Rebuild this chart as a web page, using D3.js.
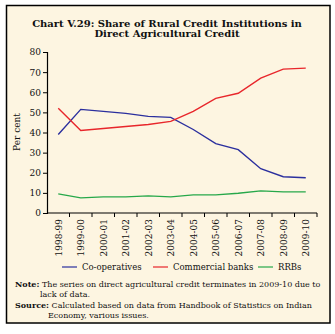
<!DOCTYPE html>
<html><head><meta charset="utf-8">
<script src="https://cdn.jsdelivr.net/npm/d3@7"></script>
<style>
html,body{margin:0;padding:0;background:#fff;}
svg{display:block;}
text{font-family:"DejaVu Serif","Liberation Serif",serif;fill:#111;}
</style></head>
<body>
<svg id="c" width="335" height="334"></svg>
<script>
const years = ["1998-99","1999-00","2000-01","2001-02","2002-03","2003-04","2004-05","2005-06","2006-07","2007-08","2008-09","2009-10"];
const cooperatives = [39, 51.5, 50.5, 49.5, 48, 47.5, 41.5, 34.5, 31.5, 22, 18, 17.5];
const commercialBanks = [52, 41, 42, 43, 44, 45.5, 50.5, 57, 59.5, 67, 71.5, 72];
const rrbs = [9.5, 7.5, 8, 8, 8.5, 8, 9, 9, 9.8, 11, 10.5, 10.5];
const yTicks = [0,10,20,30,40,50,60,70,80];
const seriesNames = ["Co-operatives","Commercial banks","RRBs"];
const seriesColors = ["#2b2f9e","#e8262b","#27a84a"];

const svg = d3.select("#c");
svg.append("rect").attr("x",6.5).attr("y",5.5).attr("width",323.5).attr("height",317.5)
  .attr("fill","#fdf5e1").attr("stroke","#000").attr("stroke-width",1.5);

svg.append("text").attr("x",167).attr("y",27).attr("text-anchor","middle")
  .style("font-weight","bold").style("font-size","10px").text("Chart V.29: Share of Rural Credit Institutions in");
svg.append("text").attr("x",167).attr("y",37).attr("text-anchor","middle")
  .style("font-weight","bold").style("font-size","10px").text("Direct Agricultural Credit");

const x = d3.scaleBand().domain(years).range([47,317]);
const y = d3.scaleLinear().domain([0,80]).range([213,52]);

const gy = svg.append("g").attr("transform","translate(47,0)")
  .call(d3.axisLeft(y).tickValues(yTicks).tickSize(4).tickPadding(2));
gy.selectAll("text").style("font-size","9px").style("font-family","DejaVu Serif, serif");
gy.select(".domain").attr("stroke","#000").attr("stroke-width",1.2);

const gx = svg.append("g").attr("transform","translate(0,213)");
gx.append("line").attr("x1",47).attr("x2",317).attr("y1",0).attr("y2",0).attr("stroke","#000").attr("stroke-width",1.2);
gx.selectAll("line.t").data(years).enter().append("line").attr("class","t")
  .attr("x1",d=>x(d)+x.bandwidth()).attr("x2",d=>x(d)+x.bandwidth()).attr("y1",0).attr("y2",4).attr("stroke","#000");
gx.selectAll("text").data(years).enter().append("text")
  .attr("transform",d=>`translate(${x(d)+x.bandwidth()/2+3.5},6) rotate(-90)`)
  .attr("text-anchor","end").style("font-size","9px").text(d=>d);

svg.append("text").attr("transform","translate(20,132) rotate(-90)").attr("text-anchor","middle")
  .style("font-size","9px").text("Per cent");

const line = d3.line().x((d,i)=>x(years[i])+x.bandwidth()/2).y(d=>y(d));
[cooperatives, commercialBanks, rrbs].forEach((s,k)=>{
  svg.append("path").datum(s).attr("d",line).attr("fill","none")
    .attr("stroke",seriesColors[k]).attr("stroke-width",1.4);
});

const legX = [62,153,258];
seriesNames.forEach((n,k)=>{
  svg.append("line").attr("x1",legX[k]).attr("x2",legX[k]+15).attr("y1",267).attr("y2",267)
    .attr("stroke",seriesColors[k]).attr("stroke-width",1.2);
  svg.append("text").attr("x",legX[k]+20).attr("y",270).style("font-size","8.5px").text(n);
});

const notes = [
  {x:15,y:287,b:"Note:",t:" The series on direct agricultural credit terminates in 2009-10 due to"},
  {x:40,y:297,b:"",t:"lack of data."},
  {x:15,y:308,b:"Source:",t:" Calculated based on data from Handbook of Statistics on Indian"},
  {x:48,y:318,b:"",t:"Economy, various issues."}
];
notes.forEach(n=>{
  const t = svg.append("text").attr("x",n.x).attr("y",n.y).style("font-size","8px");
  if(n.b) t.append("tspan").style("font-weight","bold").text(n.b);
  t.append("tspan").text(n.t);
});
</script>
</body></html>
